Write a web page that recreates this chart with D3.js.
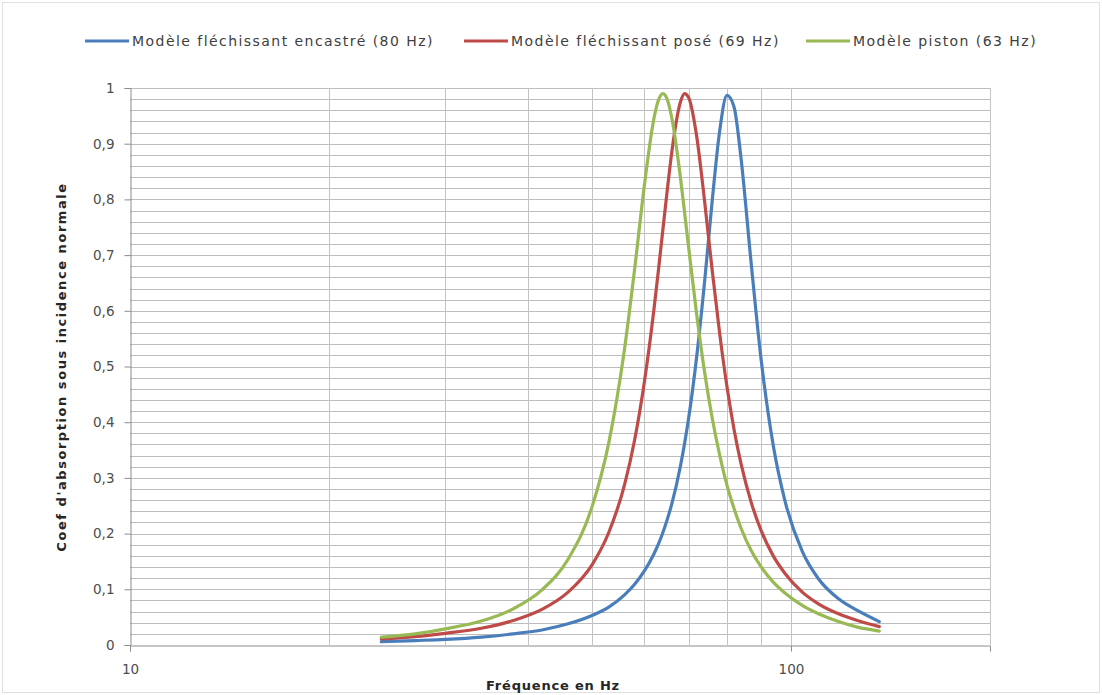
<!DOCTYPE html>
<html>
<head>
<meta charset="utf-8">
<script src="https://cdn.jsdelivr.net/npm/d3@7"></script>
<style>
  html, body { margin: 0; padding: 0; background: #ffffff; }
  svg { display: block; }
  text { font-family: "DejaVu Sans", "Liberation Sans", sans-serif; }
</style>
</head>
<body>
<svg id="chart" width="1102" height="695"></svg>
<script>
// ---- Data ----
const frequencies = [24, 27, 30, 34, 38, 42, 46, 50, 53, 56, 58, 60, 62, 63, 64, 65, 66, 68, 69, 70, 72, 74, 76, 78, 80, 82, 84, 87, 90, 94, 98, 104, 110, 118, 126, 136];

const encastre = [0.006, 0.008, 0.010, 0.014, 0.020, 0.027, 0.038, 0.053, 0.068, 0.090, 0.109, 0.133, 0.163, 0.181, 0.202, 0.226, 0.253, 0.320, 0.361, 0.407, 0.518, 0.652, 0.798, 0.923, 0.987, 0.966, 0.875, 0.688, 0.518, 0.358, 0.257, 0.168, 0.119, 0.083, 0.062, 0.042];

const pose = [0.011, 0.015, 0.021, 0.030, 0.044, 0.064, 0.095, 0.144, 0.202, 0.288, 0.368, 0.472, 0.600, 0.672, 0.746, 0.818, 0.884, 0.974, 0.990, 0.983, 0.913, 0.797, 0.672, 0.559, 0.464, 0.387, 0.326, 0.257, 0.207, 0.160, 0.128, 0.095, 0.074, 0.056, 0.044, 0.033];

const piston = [0.014, 0.020, 0.029, 0.043, 0.065, 0.099, 0.154, 0.248, 0.363, 0.532, 0.675, 0.825, 0.944, 0.978, 0.990, 0.979, 0.947, 0.841, 0.778, 0.714, 0.593, 0.490, 0.407, 0.341, 0.287, 0.245, 0.210, 0.170, 0.141, 0.113, 0.093, 0.071, 0.056, 0.042, 0.032, 0.025];

const seriesNames = ["Modèle fléchissant encastré (80 Hz)", "Modèle fléchissant posé (69 Hz)", "Modèle piston (63 Hz)"];
const seriesColors = ["#4a7ebb", "#be4b48", "#98b954"];

const xTickValues = [10, 100];
const xTickLabels = ["10", "100"];
const xMinorGrid = [20, 30, 40, 50, 60, 70, 80, 90, 200];
const yTickValues = [0, 0.1, 0.2, 0.3, 0.4, 0.5, 0.6, 0.7, 0.8, 0.9, 1];
const yTickLabels = ["0", "0,1", "0,2", "0,3", "0,4", "0,5", "0,6", "0,7", "0,8", "0,9", "1"];
const yMinorStep = 0.02;

const xTitle = "Fréquence en Hz";
const yTitle = "Coef d'absorption sous incidence normale";

// ---- Layout ----
const svg = d3.select("#chart");
const W = 1102, H = 695;
const plot = { left: 130, right: 990, top: 88, bottom: 645 };

// outer frame
svg.append("rect")
  .attr("x", 2.5).attr("y", 2.5).attr("width", W - 5).attr("height", H - 5)
  .attr("fill", "#ffffff").attr("stroke", "#e0e0e0").attr("stroke-width", 1);

const x = d3.scaleLog().domain([10, 200]).range([plot.left, plot.right]);
const y = d3.scaleLinear().domain([0, 1]).range([plot.bottom, plot.top]);

// horizontal grid (every 0.02)
const hLines = d3.range(0, 1.0001, yMinorStep).map(v => +v.toFixed(2)).filter(v => v > 0);
svg.append("g").selectAll("line").data(hLines).join("line")
  .attr("x1", plot.left).attr("x2", plot.right)
  .attr("y1", d => Math.round(y(d)) + 0.5).attr("y2", d => Math.round(y(d)) + 0.5)
  .attr("stroke", "#bdbdbd").attr("stroke-width", 1);

// vertical grid
svg.append("g").selectAll("line").data(xMinorGrid.concat([100])).join("line")
  .attr("x1", d => Math.round(x(d)) + 0.5).attr("x2", d => Math.round(x(d)) + 0.5)
  .attr("y1", plot.top).attr("y2", plot.bottom)
  .attr("stroke", "#c4c4c4").attr("stroke-width", 1);

// Axes
const yAxis = d3.axisLeft(y).tickValues(yTickValues)
  .tickFormat((d, i) => yTickLabels[i]).tickSize(6).tickPadding(10);
const gy = svg.append("g").attr("transform", `translate(${plot.left + 0.5},0)`).call(yAxis);
gy.select(".domain").attr("stroke", "#8c8c8c");
gy.selectAll(".tick line").attr("stroke", "#8c8c8c");
gy.selectAll("text").attr("font-size", 13.5).attr("fill", "#4d4d4d")
  .attr("font-family", "'DejaVu Sans', sans-serif");

const xAxis = d3.axisBottom(x).tickValues(xTickValues)
  .tickFormat((d, i) => xTickLabels[i]).tickSize(6).tickPadding(13);
const gx = svg.append("g").attr("transform", `translate(0,${plot.bottom + 0.5})`).call(xAxis);
gx.select(".domain").attr("stroke", "#8c8c8c");
gx.selectAll(".tick line").attr("stroke", "#8c8c8c");
gx.selectAll("text").attr("font-size", 13.5).attr("fill", "#4d4d4d")
  .attr("font-family", "'DejaVu Sans', sans-serif");

// Series
const allSeries = [encastre, pose, piston];
const line = d3.line()
  .x(d => x(d[0]))
  .y(d => y(d[1]))
  .curve(d3.curveMonotoneX);

allSeries.forEach((vals, i) => {
  const pts = frequencies.map((f, j) => [f, vals[j]]);
  svg.append("path").datum(pts)
    .attr("d", line)
    .attr("fill", "none")
    .attr("stroke", seriesColors[i])
    .attr("stroke-width", 3.2)
    .attr("stroke-linejoin", "round")
    .attr("stroke-linecap", "round");
});

// Legend
const legendX = [85, 464, 806];
const lg = svg.append("g");
seriesNames.forEach((name, i) => {
  lg.append("line")
    .attr("x1", legendX[i]).attr("x2", legendX[i] + 44)
    .attr("y1", 41).attr("y2", 41)
    .attr("stroke", seriesColors[i]).attr("stroke-width", 3.2);
  lg.append("text")
    .attr("x", legendX[i] + 47).attr("y", 46)
    .attr("font-size", 14).attr("letter-spacing", 1.45).attr("fill", "#404040")
    .text(name);
});

// Axis titles
svg.append("text")
  .attr("x", 553).attr("y", 690)
  .attr("text-anchor", "middle").attr("font-size", 13).attr("letter-spacing", 0.8)
  .attr("font-weight", "bold").attr("fill", "#262626")
  .text(xTitle);

svg.append("text")
  .attr("transform", `translate(66,367) rotate(-90)`)
  .attr("text-anchor", "middle").attr("font-size", 13).attr("letter-spacing", 1.55)
  .attr("font-weight", "bold").attr("fill", "#262626")
  .text(yTitle);
</script>
</body>
</html>
